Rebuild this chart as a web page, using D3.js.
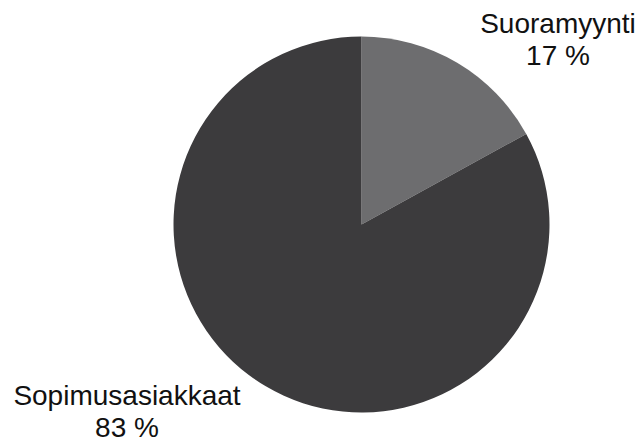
<!DOCTYPE html>
<html><head><meta charset="utf-8">
<script src="https://cdn.jsdelivr.net/npm/d3@7"></script>
<style>html,body{margin:0;padding:0;background:#fff;}</style>
</head><body>
<svg id="c" width="639" height="441"></svg>
<script>
const categories = ["Suoramyynti", "Sopimusasiakkaat"];
const values = [17, 83];
const valueLabels = ["17 %", "83 %"];
const colors = ["#6d6d6f", "#3c3b3d"];

const svg = d3.select("#c");
const cx = 361.5, cy = 224.5, r = 188;
const g = svg.append("g").attr("transform", `translate(${cx},${cy})`);
const data = categories.map((c, i) => ({name: c, value: values[i], label: valueLabels[i], color: colors[i]}));
const pie = d3.pie().sort(null).value(d => d.value);
const arc = d3.arc().innerRadius(0).outerRadius(r);
g.selectAll("path").data(pie(data)).join("path")
  .attr("d", arc).attr("fill", d => d.data.color);

const labelPos = [{x: 558, y: 33}, {x: 127, y: 405}];
const lg = svg.append("g").attr("font-family", "Liberation Sans, Arial, sans-serif")
  .attr("font-size", 28).attr("fill", "#111").attr("text-anchor", "middle");
data.forEach((d, i) => {
  lg.append("text").attr("x", labelPos[i].x).attr("y", labelPos[i].y).text(d.name);
  lg.append("text").attr("x", labelPos[i].x).attr("y", labelPos[i].y + 31.5).text(d.label);
});
</script>
</body></html>
